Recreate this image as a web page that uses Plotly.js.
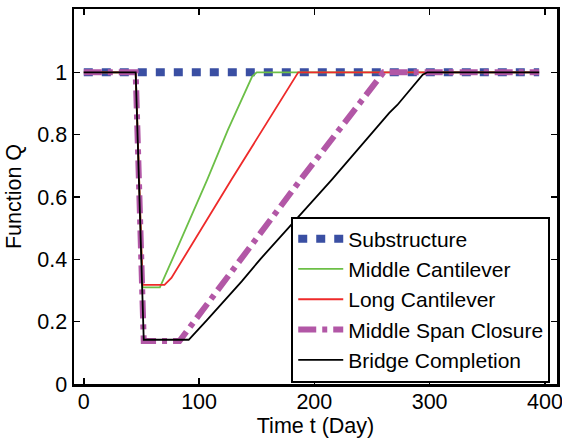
<!DOCTYPE html>
<html>
<head>
<meta charset="utf-8">
<script src="https://cdn.plot.ly/plotly-3.0.1.min.js"></script>
<style>html,body{margin:0;padding:0;background:#fff;}</style>
</head>
<body>
<div id="chart" style="width:562px;height:443px;"></div>
<script>
// Data
var seriesNames = ["Substructure", "Middle Cantilever", "Long Cantilever", "Middle Span Closure", "Bridge Completion"];

var daysSub = [0, 395];
var qSub = [1, 1];

var daysMidCant = [0, 45, 51, 66, 76, 107, 125, 137, 146, 150, 395];
var qMidCant = [1, 1, 0.31, 0.31, 0.393, 0.655, 0.815, 0.911, 0.986, 1, 1];

var daysLongCant = [0, 45, 51, 70, 76, 128, 186, 395];
var qLongCant = [1, 1, 0.318, 0.318, 0.34, 0.655, 1, 1];

var daysClosure = [0, 45, 52, 83, 189, 260, 395];
var qClosure = [1, 1, 0.138, 0.138, 0.66, 1, 1];

var daysComplete = [0, 45, 52, 91, 107, 137, 153, 215, 265, 272, 294, 298, 395];
var qComplete = [1, 1, 0.142, 0.142, 0.206, 0.329, 0.40, 0.655, 0.87, 0.895, 0.992, 1, 1];

var xTicks = [0, 100, 200, 300, 400];
var yTicks = [0, 0.2, 0.4, 0.6, 0.8, 1];
var yTickText = ["0", "0.2", "0.4", "0.6", "0.8", "1"];

var traces = [
  {x: daysSub, y: qSub, name: seriesNames[0], mode: "lines",
   line: {color: "#3a4fa3", width: 8, dash: "9px,9px"}},
  {x: daysMidCant, y: qMidCant, name: seriesNames[1], mode: "lines",
   line: {color: "#6cbf47", width: 1.8}},
  {x: daysLongCant, y: qLongCant, name: seriesNames[2], mode: "lines",
   line: {color: "#ee2a2a", width: 1.8}},
  {x: daysClosure, y: qClosure, name: seriesNames[3], mode: "lines",
   line: {color: "#b257a6", width: 6, dash: "18px,6px,5px,6px"}},
  {x: daysComplete, y: qComplete, name: seriesNames[4], mode: "lines",
   line: {color: "#000000", width: 1.8}}
];

var axisCommon = {
  showline: true, linecolor: "#000", linewidth: 2.5, mirror: "ticks",
  ticks: "inside", ticklen: 6, tickwidth: 1.5, tickcolor: "#000",
  showgrid: false, zeroline: false, ticklabeloverflow: "allow"
};

var layout = {
  width: 562, height: 443,
  margin: {l: 74, r: 5, t: 9, b: 59, pad: 0},
  paper_bgcolor: "#fff", plot_bgcolor: "#fff",
  font: {family: "Liberation Sans, Arial, sans-serif", size: 21.5, color: "#000"},
  showlegend: true,
  xaxis: Object.assign({}, axisCommon, {
    range: [-8.5, 410.5], tickvals: xTicks, ticklabelstandoff: -3,
    title: {text: "Time t (Day)", standoff: 4, font: {size: 21.5}}
  }),
  yaxis: Object.assign({}, axisCommon, {
    range: [0, 1.203], tickvals: yTicks, ticktext: yTickText,
    title: {text: "Function Q", standoff: 10, font: {size: 21.5}}
  }),
  legend: {
    x: 0.986, xanchor: "right", y: 0.004, yanchor: "bottom",
    bgcolor: "#fff", bordercolor: "#000", borderwidth: 2,
    font: {size: 21}, itemwidth: 45, tracegroupgap: 0
  }
};

Plotly.newPlot("chart", traces, layout, {displayModeBar: false, staticPlot: true});
</script>
</body>
</html>
